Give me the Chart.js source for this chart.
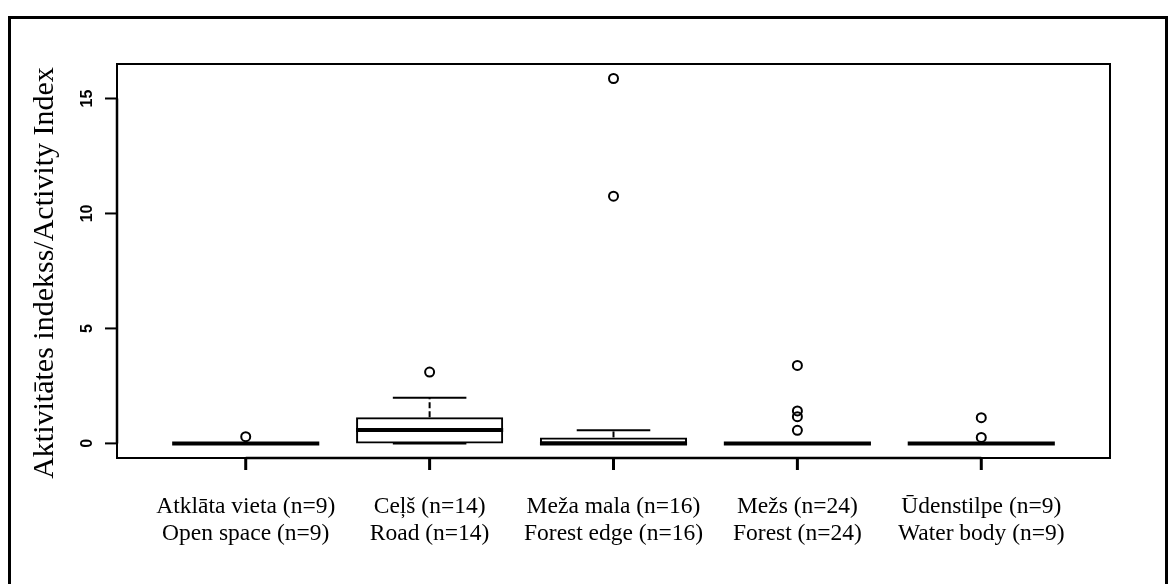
<!DOCTYPE html>
<html>
<head>
<meta charset="utf-8">
<script src="https://cdn.jsdelivr.net/npm/chart.js@4.4.1/dist/chart.umd.min.js"></script>
<style>
  html, body { margin: 0; padding: 0; background: #ffffff; }
  #wrap { width: 1174px; height: 584px; position: relative; }
  canvas { display: block; }
</style>
</head>
<body>
<div id="wrap"><canvas id="c" width="1174" height="584"></canvas></div>
<script>
// ---- data ----
const labelsLV = ["Atklāta vieta (n=9)", "Ceļš (n=14)", "Meža mala (n=16)", "Mežs (n=24)", "Ūdenstilpe (n=9)"];
const labelsEN = ["Open space (n=9)", "Road (n=14)", "Forest edge (n=16)", "Forest (n=24)", "Water body (n=9)"];
const whiskerLow = [0, 0, 0, 0, 0];
const q1 = [0, 0, 0, 0, 0];
const median = [0, 0.58, 0, 0, 0];
const q3 = [0, 1.14, 0.26, 0, 0];
const whiskerHigh = [0, 1.98, 0.57, 0, 0];
const outliers = [
  [0.29],
  [3.10],
  [10.75, 15.87],
  [3.39, 1.41, 1.16, 0.57],
  [1.12, 0.26]
];
const yTicks = [0, 5, 10, 15];
const yTitle = "Aktivitātes indekss/Activity Index";

// ---- datasets built from the arrays ----
const positions = labelsLV.map((_, i) => i + 1);
const boxData = positions.map((x, i) => ({ x: x, y: [q1[i], q3[i]] }));
const outlierData = [];
outliers.forEach((arr, i) => arr.forEach(v => outlierData.push({ x: positions[i], y: v })));

const boxPlugin = {
  id: 'boxplotExtras',
  afterDatasetsDraw(chart) {
    const ctx = chart.ctx;
    const xs = chart.scales.x, ys = chart.scales.y;
    const meta = chart.getDatasetMeta(0);
    ctx.save();
    ctx.strokeStyle = '#000';
    positions.forEach((p, i) => {
      const cx = xs.getPixelForValue(p);
      const w = meta.data[i].width;
      const capW = w / 2;
      ctx.lineWidth = 2;
      ctx.setLineDash([6, 3]);
      if (whiskerHigh[i] > q3[i]) {
        ctx.beginPath();
        ctx.moveTo(cx, ys.getPixelForValue(q3[i]));
        ctx.lineTo(cx, ys.getPixelForValue(whiskerHigh[i]));
        ctx.stroke();
      }
      if (whiskerLow[i] < q1[i]) {
        ctx.beginPath();
        ctx.moveTo(cx, ys.getPixelForValue(q1[i]));
        ctx.lineTo(cx, ys.getPixelForValue(whiskerLow[i]));
        ctx.stroke();
      }
      ctx.setLineDash([]);
      [whiskerHigh[i], whiskerLow[i]].forEach(v => {
        const py = ys.getPixelForValue(v);
        ctx.beginPath();
        ctx.moveTo(cx - capW / 2, py);
        ctx.lineTo(cx + capW / 2, py);
        ctx.stroke();
      });
      ctx.lineWidth = 4;
      const my = ys.getPixelForValue(median[i]);
      ctx.beginPath();
      ctx.moveTo(cx - w / 2, my);
      ctx.lineTo(cx + w / 2, my);
      ctx.stroke();
    });
    ctx.restore();
  },
  afterDraw(chart) {
    const ctx = chart.ctx;
    const xs = chart.scales.x, ys = chart.scales.y;
    const a = chart.chartArea;
    ctx.save();
    ctx.strokeStyle = '#000';
    ctx.fillStyle = '#000';
    // outer figure border
    ctx.lineWidth = 3;
    ctx.strokeRect(9.5, 17.5, 1157, 620);
    // plot frame
    ctx.lineWidth = 2;
    ctx.strokeRect(a.left, a.top, a.right - a.left, a.bottom - a.top);
    // y axis
    ctx.lineWidth = 2.5;
    ctx.beginPath();
    ctx.moveTo(a.left, ys.getPixelForValue(yTicks[0]));
    ctx.lineTo(a.left, ys.getPixelForValue(yTicks[yTicks.length - 1]));
    ctx.stroke();
    ctx.lineWidth = 2;
    ctx.font = 'bold 16px "Liberation Sans", Arial, sans-serif';
    ctx.textAlign = 'center';
    ctx.textBaseline = 'alphabetic';
    yTicks.forEach(t => {
      const py = ys.getPixelForValue(t);
      ctx.beginPath();
      ctx.moveTo(a.left - 12, py);
      ctx.lineTo(a.left, py);
      ctx.stroke();
      ctx.save();
      ctx.translate(a.left - 25, py);
      ctx.rotate(-Math.PI / 2);
      ctx.fillText(String(t), 0, 0);
      ctx.restore();
    });
    // x axis
    ctx.lineWidth = 2.5;
    ctx.beginPath();
    ctx.moveTo(xs.getPixelForValue(positions[0]), a.bottom);
    ctx.lineTo(xs.getPixelForValue(positions[positions.length - 1]), a.bottom);
    ctx.stroke();
    ctx.font = '23.5px "Liberation Serif", "Times New Roman", serif';
    ctx.textAlign = 'center';
    positions.forEach((p, i) => {
      const px = xs.getPixelForValue(p);
      ctx.lineWidth = 3;
      ctx.beginPath();
      ctx.moveTo(px, a.bottom);
      ctx.lineTo(px, a.bottom + 12);
      ctx.stroke();
      ctx.fillText(labelsLV[i], px, a.bottom + 55);
      ctx.fillText(labelsEN[i], px, a.bottom + 82);
    });
    // y title
    ctx.save();
    ctx.font = '30px "Liberation Serif", "Times New Roman", serif';
    ctx.translate(53, (a.top + a.bottom) / 2 + 12);
    ctx.rotate(-Math.PI / 2);
    ctx.textAlign = 'center';
    ctx.fillText(yTitle, 0, 0);
    ctx.restore();
    ctx.restore();
  }
};

new Chart(document.getElementById('c'), {
  type: 'bar',
  data: {
    datasets: [
      {
        type: 'bar',
        label: 'box',
        data: boxData,
        backgroundColor: 'rgba(0,0,0,0)',
        borderColor: '#000',
        borderWidth: 2,
        borderSkipped: false,
        barPercentage: 1.0,
        categoryPercentage: 0.8
      },
      {
        type: 'scatter',
        label: 'outliers',
        data: outlierData,
        pointStyle: 'circle',
        pointRadius: 4.5,
        pointBorderWidth: 2,
        pointBackgroundColor: 'rgba(0,0,0,0)',
        pointBorderColor: '#000',
        showLine: false
      }
    ]
  },
  options: {
    responsive: false,
    animation: false,
    devicePixelRatio: 1,
    layout: { padding: { left: 117, top: 64, right: 64, bottom: 126 } },
    plugins: { legend: { display: false }, tooltip: { enabled: false } },
    scales: {
      x: { type: 'linear', min: 0.3, max: 5.7, display: false, offset: false,
           grid: { offset: false },
           ticks: { stepSize: 1, includeBounds: false } },
      y: { type: 'linear', min: -0.635, max: 16.5, display: false }
    }
  },
  plugins: [boxPlugin]
});
</script>
</body>
</html>
